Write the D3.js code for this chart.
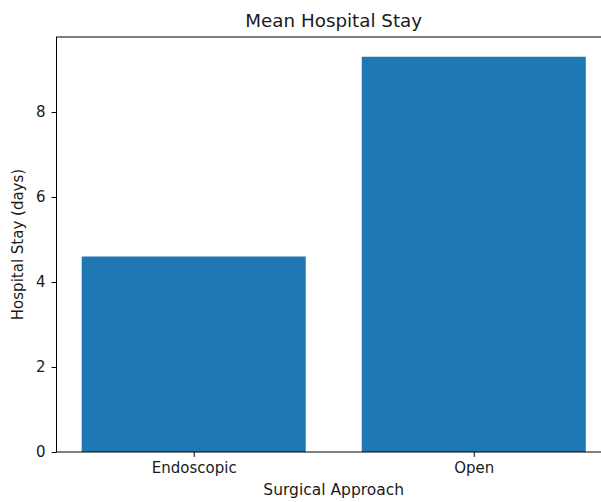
<!DOCTYPE html>
<html>
<head>
<meta charset="utf-8">
<script src="https://cdn.jsdelivr.net/npm/d3@7"></script>
<style>
  body { margin: 0; background: #fff; }
  svg { display: block; font-family: "DejaVu Sans", sans-serif; }
</style>
</head>
<body>
<svg id="chart" width="601" height="502"></svg>
<script>
const categories = ["Endoscopic", "Open"];
const values = [4.6, 9.3];
const yTicks = [0, 2, 4, 6, 8];
const title = "Mean Hospital Stay";
const xTitle = "Surgical Approach";
const yTitle = "Hospital Stay (days)";

(function () {
const svg = d3.select("#chart");
const pLeft = 56.5, pRight = 611, pTop = 37, pBottom = 452;
const ink = "#1a1a1a";

// matplotlib-like continuous x: bars at 0,1 width 0.8, margins 0.05
const x = d3.scaleLinear().domain([-0.49, 1.49]).range([pLeft, pRight]);
const yMax = d3.max(values) * 1.05;
const y = d3.scaleLinear().domain([0, yMax]).range([pBottom, pTop]);

svg.append("g").selectAll("rect").data(values).enter().append("rect")
  .attr("x", (d, i) => x(i - 0.4))
  .attr("width", (d, i) => x(i + 0.4) - x(i - 0.4))
  .attr("y", d => y(d))
  .attr("height", d => y(0) - y(d))
  .attr("fill", "#1f77b4");

// spines
const sp = svg.append("g").attr("stroke", "#000").attr("stroke-width", 1).attr("fill", "none");
sp.append("rect").attr("x", pLeft).attr("y", pTop).attr("width", pRight - pLeft).attr("height", pBottom - pTop);

// y axis
const yAxis = d3.axisLeft(y).tickValues(yTicks).tickSize(4.9).tickPadding(6).tickFormat(d3.format("d"));
const gy = svg.append("g").attr("transform", `translate(${pLeft},0)`).call(yAxis);
gy.select(".domain").remove();
gy.selectAll("line").attr("stroke", "#000").attr("stroke-width", 1);
gy.selectAll("text").attr("font-size", "15px").attr("fill", ink).attr("font-family", "DejaVu Sans");

// x axis
const xAxis = d3.axisBottom(x).tickValues(categories.map((c, i) => i)).tickSize(4.9).tickPadding(5)
  .tickFormat((d) => categories[d]);
const gx = svg.append("g").attr("transform", `translate(0,${pBottom})`).call(xAxis);
gx.select(".domain").remove();
gx.selectAll("line").attr("stroke", "#000").attr("stroke-width", 1);
gx.selectAll("text").attr("font-size", "15px").attr("fill", ink).attr("font-family", "DejaVu Sans");

const cx = (pLeft + pRight) / 2;
svg.append("text").attr("x", cx).attr("y", 27).attr("text-anchor", "middle")
  .attr("font-size", "18.3px").attr("fill", ink).text(title);
svg.append("text").attr("x", cx).attr("y", 495).attr("text-anchor", "middle")
  .attr("font-size", "15.5px").attr("fill", ink).text(xTitle);
svg.append("text").attr("transform", `translate(23,${(pTop + pBottom) / 2}) rotate(-90)`)
  .attr("text-anchor", "middle").attr("font-size", "15px").attr("fill", ink).text(yTitle);
})();
</script>
</body>
</html>
